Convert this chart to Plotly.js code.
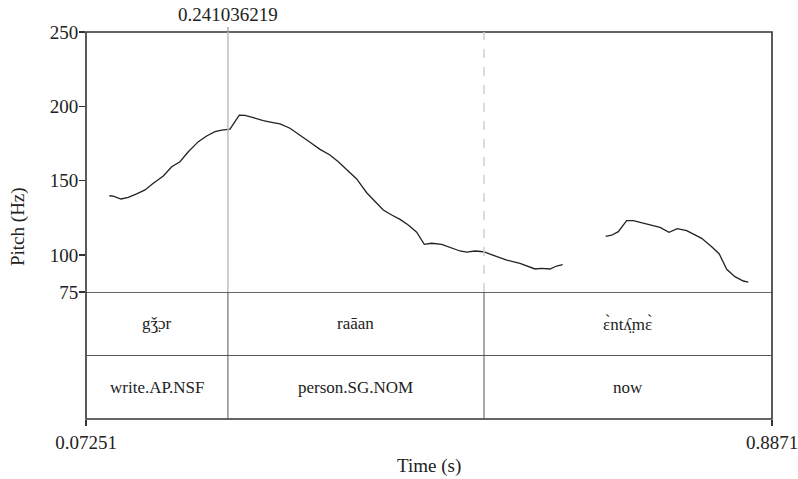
<!DOCTYPE html>
<html>
<head>
<meta charset="utf-8">
<script src="https://cdn.plot.ly/plotly-3.0.1.min.js"></script>
<style>html,body{margin:0;padding:0;background:#fff;}#chart{width:798px;height:479px;}</style>
</head>
<body>
<div id="chart"></div>
<script>
// ---- data ----
const timeSeg1 = [0.1002,0.1049,0.1141,0.1227,0.1327,0.1426,0.1524,0.1643,0.1743,0.1841,0.1940,0.2059,0.2158,0.2257,0.2336,0.2435,0.2545,0.2613,0.2712,0.2830,0.2930,0.3029,0.3147,0.3266,0.3385,0.3504,0.3622,0.3721,0.3821,0.3939,0.4058,0.4157,0.4255,0.4355,0.4454,0.4552,0.4652,0.4742,0.4830,0.4949,0.5067,0.5166,0.5246,0.5344,0.5443,0.5561,0.5721,0.5878,0.6057,0.6136,0.6235,0.6314,0.6385];
const pitchSeg1 = [139.8,139.6,137.6,138.7,141.0,143.7,148.2,153.1,159.3,162.7,169.4,176.2,180.0,182.9,184.0,184.7,194.1,193.9,192.3,190.3,189.2,188.1,185.2,180.7,175.8,171.0,167.2,162.7,157.1,151.1,141.8,135.8,130.2,126.8,123.9,120.1,115.2,107.1,107.8,107.1,104.4,102.6,101.9,102.6,102.1,99.9,96.5,94.3,90.5,90.9,90.5,92.5,93.4];
const timeSeg2 = [0.6896,0.6967,0.7046,0.7145,0.7224,0.7383,0.7541,0.7648,0.7746,0.7858,0.8036,0.8155,0.8245,0.8333,0.8431,0.8530,0.8589];
const pitchSeg2 = [112.5,113.2,115.6,123.0,123.0,120.8,118.5,115.2,117.6,116.3,111.1,105.5,100.6,90.3,85.3,82.4,81.7];

const tMin = 0.07251, tMax = 0.8871;
const boundaries = [0.241036219, 0.5451];
const wordTier = ["gǯ̤ɔr", "raāan", "ɛ̀ntʎ̤mɛ̀"];
const glossTier = ["write.AP.NSF", "person.SG.NOM", "now"];
const yTicks = [75, 100, 150, 200, 250];
const xTickVals = [0.07251, 0.8871];
const xTickText = ["0.07251", "0.8871"];
const topLabel = "0.241036219";

// ---- layout helpers ----
const FONT = "Liberation Serif, Times New Roman, serif";
const FS = 19;
const TIER_FS = 17;
const INK = "#333333";
const splitFrac = 127/387;   // pitch area / tier area boundary (paper)
const eps = 1e-6;

const traces = [
  {x: timeSeg1, y: pitchSeg1, mode: "lines", line: {color: "#222", width: 1.3}, xaxis: "x", yaxis: "y", hoverinfo: "skip"},
  {x: timeSeg2, y: pitchSeg2, mode: "lines", line: {color: "#222", width: 1.3}, xaxis: "x", yaxis: "y", hoverinfo: "skip"}
];

const edges = [tMin].concat(boundaries, [tMax]);
const shapes = [];
shapes.push({type: "rect", xref: "paper", yref: "paper", x0: 0, x1: 1, y0: 0, y1: 1, line: {color: INK, width: 1.6}});
shapes.push({type: "line", xref: "paper", yref: "y2", x0: 0, x1: 1, y0: 2, y1: 2, line: {color: INK, width: 1.4}});
shapes.push({type: "line", xref: "paper", yref: "y2", x0: 0, x1: 1, y0: 1, y1: 1, line: {color: "#555", width: 1}});
boundaries.forEach((b, i) => {
  shapes.push({type: "line", xref: "x", yref: "paper", x0: b, x1: b, y0: splitFrac, y1: 1,
    line: {color: i === 0 ? "#bdbdbd" : "#d0d0d0", width: 1.5, dash: i === 0 ? "solid" : "dash"}});
  shapes.push({type: "line", xref: "x", yref: "y2", x0: b, x1: b, y0: 0, y1: 2, line: {color: "#555", width: 1}});
});
shapes.push({type: "line", xref: "x", yref: "paper", x0: boundaries[0], x1: boundaries[0], y0: 1, y1: 1 + 5/387, line: {color: "#999", width: 1.2}});

const annotations = [];
for (let i = 0; i < wordTier.length; i++) {
  const c = (edges[i] + edges[i+1]) / 2;
  annotations.push({x: c, y: 1.5, xref: "x", yref: "y2", text: wordTier[i], showarrow: false, font: {family: FONT, size: TIER_FS, color: "#222"}});
  annotations.push({x: c, y: 0.5, xref: "x", yref: "y2", text: glossTier[i], showarrow: false, font: {family: FONT, size: TIER_FS, color: "#222"}});
}
annotations.push({x: boundaries[0], y: 1, xref: "x", yref: "paper", yanchor: "middle", yshift: 18, text: topLabel, showarrow: false, font: {family: FONT, size: FS, color: "#222"}});
annotations.push({x: 0.5, y: 0, xref: "paper", yref: "paper", yanchor: "middle", yshift: -47, text: "Time (s)", showarrow: false, font: {family: FONT, size: FS, color: "#222"}});
annotations.push({x: 0, y: 0.5, xref: "paper", yref: "paper", xanchor: "center", yanchor: "middle", xshift: -68, yshift: -1.5, textangle: -90, text: "Pitch (Hz)", showarrow: false, font: {family: FONT, size: FS, color: "#222"}});

const layout = {
  width: 798, height: 479,
  margin: {l: 86, r: 26, t: 32, b: 60, pad: 0},
  paper_bgcolor: "#ffffff", plot_bgcolor: "#ffffff",
  showlegend: false,
  font: {family: FONT, size: FS, color: "#222"},
  xaxis: {range: [tMin - eps, tMax + eps], domain: [0, 1], anchor: "y2", showgrid: false, zeroline: false, showline: false,
    tickmode: "array", tickvals: xTickVals, ticktext: xTickText, ticks: "outside", ticklen: 6, tickwidth: 1.4, tickcolor: INK,
    ticklabeloverflow: "allow",
    tickfont: {family: FONT, size: FS, color: "#222"}},
  yaxis: {range: [75, 250], domain: [splitFrac, 1], anchor: "x", showgrid: false, zeroline: false, showline: false,
    tickmode: "array", tickvals: yTicks, ticks: "outside", ticklen: 6, tickwidth: 1.4, tickcolor: INK,
    ticklabelstandoff: -3,
    tickfont: {family: FONT, size: FS, color: "#222"}},
  yaxis2: {range: [0, 2], domain: [0, splitFrac], anchor: "x", visible: false, showgrid: false, zeroline: false},
  shapes: shapes,
  annotations: annotations
};

Plotly.newPlot("chart", traces, layout, {staticPlot: true, displayModeBar: false});
</script>
</body>
</html>
